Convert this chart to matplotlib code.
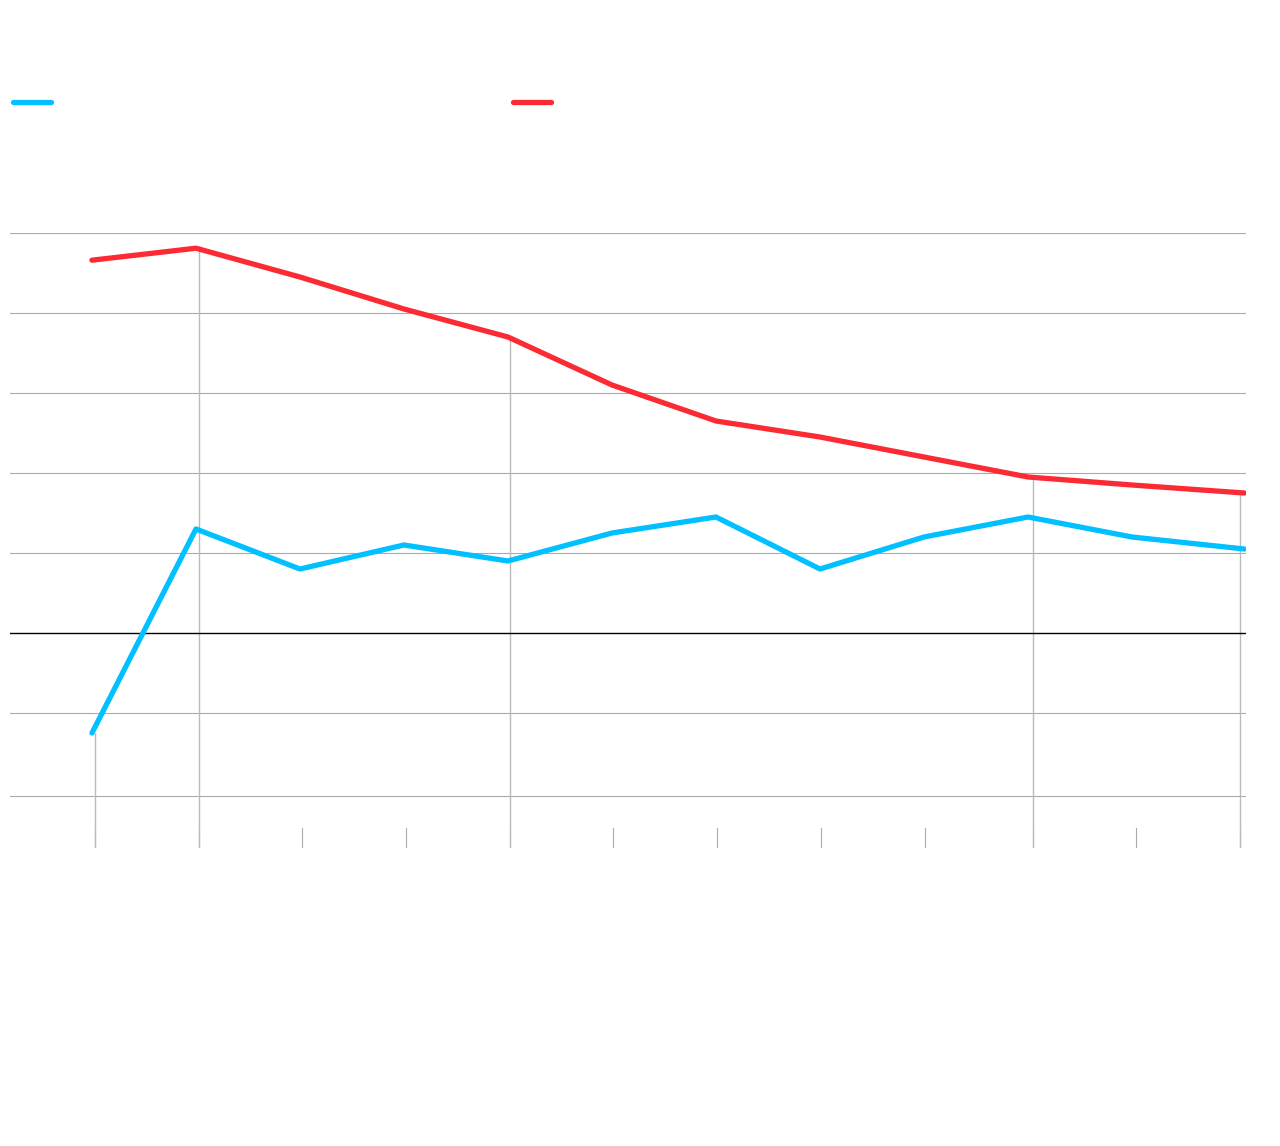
import numpy as np
import matplotlib.pyplot as plt
from matplotlib.lines import Line2D

# data (no text labels in the picture)
x_points = [0, 1, 2, 3, 4, 5, 6, 7, 8, 9, 10, 11.08]
blue_vals = [-1.25, 1.3, 0.8, 1.1, 0.9, 1.25, 1.45, 0.8, 1.2, 1.45, 1.2, 1.05]
red_vals = [4.66, 4.81, 4.45, 4.05, 3.7, 3.1, 2.65, 2.45, 2.2, 1.95, 1.85, 1.75]

tick_pos = [0.03, 1.03, 2.02, 3.02, 4.02, 5.01, 6.01, 7.01, 8.01, 9.05, 10.04, 11.04]
grid_vals = [5, 4, 3, 2, 1, -1, -2.04]

# full-height drop lines: (tick index, top value)
drop_lines = [(0, -1.25), (1, 4.81), (4, 3.69), (9, 1.94), (11, 1.75)]

BLUE = "#00c0ff"
RED = "#fc2a33"

fig = plt.figure(figsize=(12.8, 11.46), dpi=100)
ax = fig.add_axes([10 / 1280, 1 - 848 / 1146, 1236 / 1280, (848 - 233) / 1146])

ymin, ymax = -2.6875, 5
ax.set_xlim(-0.788, 11.096)
ax.set_ylim(ymin, ymax)

for g in grid_vals:
    ax.axhline(g, color="#aaaaaa", lw=0.8, zorder=1)
ax.axhline(0, color="black", lw=1.0, zorder=2)

# short ticks at the bottom
for t in tick_pos:
    ax.plot([t, t], [-2.4375, ymin], color="#aaaaaa", lw=0.8, zorder=1)

for i, top in drop_lines:
    ax.plot([tick_pos[i], tick_pos[i]], [top, ymin], color="#bbbbbb", lw=1.0, zorder=1)

ax.plot(x_points, red_vals, color=RED, lw=3.8, solid_capstyle="round",
        solid_joinstyle="round", zorder=3)
ax.plot(x_points, blue_vals, color=BLUE, lw=3.8, solid_capstyle="round",
        solid_joinstyle="round", zorder=3)

ax.axis("off")

# legend swatches (no labels in the reference)
y_leg = 1 - 102 / 1146
for x0, c in [(13, BLUE), (513, RED)]:
    fig.add_artist(Line2D([x0 / 1280, (x0 + 38) / 1280], [y_leg, y_leg],
                          color=c, lw=3.8, solid_capstyle="round"))

fig.savefig("out.png", dpi=100, facecolor="white")
